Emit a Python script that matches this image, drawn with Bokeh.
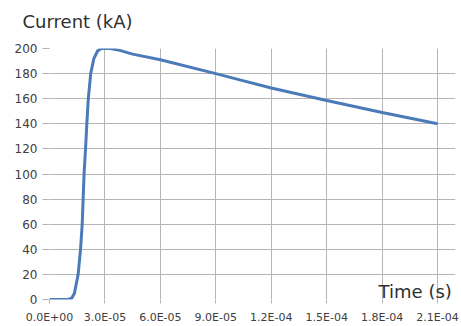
from bokeh.plotting import figure
from bokeh.models import FixedTicker, Label, Range1d, Title
from bokeh.embed import file_html
from bokeh.resources import INLINE

# time in microseconds, current in kA
time_us = [0, 10, 12, 13.5, 15.5, 16.8, 17.7, 18.2, 18.7, 19.5, 20.2, 21, 22.3, 24, 26,
           28, 33, 38, 45, 60, 90, 103, 120, 150, 180, 210]
current_ka = [0, 0, 1, 5, 20, 40, 60, 80, 100, 120, 140, 160, 180, 192, 198,
              200, 200, 198.5, 195.5, 191, 180, 175, 168.5, 158.5, 149, 140]

x_ticks = [0, 30, 60, 90, 120, 150, 180, 210]
x_tick_labels = ["0.0E+00", "3.0E-05", "6.0E-05", "9.0E-05", "1.2E-04",
                 "1.5E-04", "1.8E-04", "2.1E-04"]
y_ticks = [0, 20, 40, 60, 80, 100, 120, 140, 160, 180, 200]

y_title = "Current (kA)"
x_title = "Time (s)"

FONT = "DejaVu Sans"
GRID = "#b5b5b5"

p = figure(width=461, height=326, output_backend="svg", toolbar_location=None,
           x_range=Range1d(0, 219.7), y_range=Range1d(0, 200),
           min_border_left=49, min_border_right=6, min_border_top=48,
           min_border_bottom=27)
p.outline_line_color = None
p.background_fill_color = "white"
p.border_fill_color = "white"

# spacer between the y title and the plot frame
p.add_layout(Title(text=" ", text_font_size="9px", standoff=0), "above")
p.add_layout(Title(text=y_title, align="left", offset=-27, text_font=FONT,
                   text_font_size="18px", text_font_style="normal",
                   text_color="#303030"), "above")

p.line(time_us, current_ka, line_color="#4a7ab8", line_width=3)

p.xaxis.ticker = FixedTicker(ticks=x_ticks)
p.xaxis.major_label_overrides = {t: lab for t, lab in zip(x_ticks, x_tick_labels)}
p.yaxis.ticker = FixedTicker(ticks=y_ticks)

for ax in (p.xaxis[0], p.yaxis[0]):
    ax.axis_line_color = None
    ax.minor_tick_line_color = None
    ax.major_tick_line_color = GRID
    ax.major_tick_in = 0
    ax.major_label_text_font = FONT
    ax.major_label_text_color = "#404040"

p.xaxis.bounds = (0, 210)
p.xaxis.major_tick_out = 4
p.xaxis.major_label_standoff = 7
p.xaxis.major_label_text_font_size = "11px"
p.yaxis.major_tick_out = 7
p.yaxis.major_label_standoff = 5
p.yaxis.major_label_text_font_size = "12px"

p.xgrid.grid_line_color = GRID
p.ygrid.grid_line_color = GRID
p.xgrid.ticker = FixedTicker(ticks=x_ticks)
p.ygrid.ticker = FixedTicker(ticks=y_ticks)
p.ygrid.bounds = (0, 210)

p.add_layout(Label(x=178.1, y=6.4, text=x_title, text_font=FONT,
                   text_font_size="18px", text_color="#303030",
                   text_baseline="alphabetic"))

open("out.html", "w").write(file_html(p, INLINE))
